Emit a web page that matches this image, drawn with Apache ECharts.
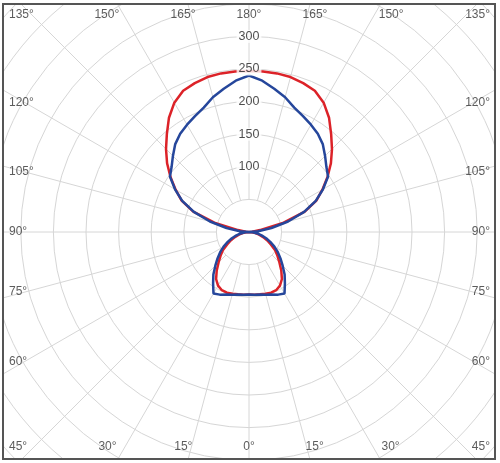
<!DOCTYPE html>
<html>
<head>
<meta charset="utf-8">
<script src="https://cdn.jsdelivr.net/npm/echarts@6/dist/echarts.min.js"></script>
<style>
  html, body { margin: 0; padding: 0; background: #fff; }
  #chart { width: 500px; height: 463px; }
</style>
</head>
<body>
<div id="chart"></div>
<script>
// gamma angle (deg from nadir), intensity readings for the two C-planes
const gammaDeg = [0, 5, 10, 15, 20, 25, 30, 35, 40, 45, 50, 55, 60, 65, 70, 75, 80, 85, 90,
  95, 100, 105, 110, 115, 120, 125, 130, 135, 140, 145, 150, 155, 160, 165, 170, 175, 180];
const redCd = [96, 96.5, 97, 98, 99, 98.5, 95, 88, 77, 66, 57, 49, 39, 31, 23, 16, 10, 4, 0,
  5, 17, 55, 91, 114, 130, 147, 164, 180, 196, 214, 229, 239, 243, 246, 247, 247, 247];
const blueCd = [96, 96.5, 97.5, 99.5, 102, 106, 109, 96, 85, 73, 63, 54, 45, 36, 28, 20, 13, 6, 0,
  14, 35, 62, 90, 113, 131, 148, 155, 165, 176, 184, 190, 196, 203, 214, 223, 233, 240];

const ringLabels = [100, 150, 200, 250, 300];
const angleLabels = [0, 15, 30, 45, 60, 75, 90, 105, 120, 135, 150, 165, 180];

const CX = 249, CY = 232, K = 0.652; // centre and px per cd
const FR = { left: 3, top: 4, right: 495, bottom: 459 };

// gamma on left/right half -> angle axis value (0 = top, clockwise)
const toAxis = (g, side) => side < 0 ? 180 - g : (180 + g) % 360;

const buildCurve = (vals) => {
  const pts = [];
  for (let i = gammaDeg.length - 1; i >= 0; i--) pts.push([vals[i], toAxis(gammaDeg[i], -1)]);
  for (let i = 1; i < gammaDeg.length; i++) pts.push([vals[i], toAxis(gammaDeg[i], 1)]);
  return pts;
};

// angle labels sit where each spoke meets the frame
const edgeLabel = (g, side) => {
  const rad = g * Math.PI / 180;
  const dx = side * Math.sin(rad), dy = Math.cos(rad);
  const tx = dx > 1e-9 ? (FR.right - CX) / dx : dx < -1e-9 ? (FR.left - CX) / dx : Infinity;
  const ty = dy > 1e-9 ? (FR.bottom - CY) / dy : dy < -1e-9 ? (FR.top - CY) / dy : Infinity;
  let px, py, align = 'center';
  if (tx < ty) { px = dx * tx; py = dy * tx * 0.91; }   // side edges
  else { px = dx * ty * 1.08; py = dy * ty; }           // top / bottom edges
  if (px < FR.left + 16 - CX) { px = FR.left + 6 - CX; align = 'left'; }
  if (px > FR.right - 16 - CX) { px = FR.right - 5 - CX; align = 'right'; }
  py = Math.min(Math.max(py, FR.top + 11 - CY), FR.bottom - 12 - CY);
  const theta = Math.atan2(-py, px) * 180 / Math.PI;
  const a = ((90 - theta) % 360 + 360) % 360;
  return { value: [Math.sqrt(px * px + py * py) / K, a], name: g + '°', label: { align: align } };
};

const angleLabelData = [];
angleLabels.forEach(g => {
  if (g === 0 || g === 180) angleLabelData.push(edgeLabel(g, 1));
  else { angleLabelData.push(edgeLabel(g, -1)); angleLabelData.push(edgeLabel(g, 1)); }
});

const gridLine = { show: true, lineStyle: { color: '#d6d6d6', width: 1 } };
const hidden = { axisLine: { show: false }, axisTick: { show: false }, axisLabel: { show: false }, splitLine: { show: false } };
const labelFont = 'Liberation Sans, Arial, sans-serif';

const chart = echarts.init(document.getElementById('chart'));
chart.setOption({
  animation: false,
  backgroundColor: '#fff',
  polar: [
    { center: [CX, CY], radius: [50 * K, 550 * K] },   // grid, empty inside 50
    { center: [CX, CY], radius: [0, 550 * K] }         // curves and labels
  ],
  angleAxis: [
    {
      polarIndex: 0, type: 'value', min: 0, max: 360, interval: 15, startAngle: 90, clockwise: true,
      axisLine: { show: false }, axisTick: { show: false }, axisLabel: { show: false },
      splitLine: gridLine
    },
    Object.assign({ polarIndex: 1, type: 'value', min: 0, max: 360, startAngle: 90, clockwise: true }, hidden)
  ],
  radiusAxis: [
    {
      polarIndex: 0, type: 'value', min: 50, max: 550, interval: 50,
      axisLine: { show: false }, axisTick: { show: false }, axisLabel: { show: false },
      splitLine: gridLine
    },
    Object.assign({ polarIndex: 1, type: 'value', min: 0, max: 550 }, hidden)
  ],
  series: [
    {
      type: 'line', coordinateSystem: 'polar', polarIndex: 1, data: buildCurve(redCd),
      showSymbol: false, clip: false, silent: true,
      lineStyle: { color: '#dc2228', width: 2.5 }, z: 3
    },
    {
      type: 'line', coordinateSystem: 'polar', polarIndex: 1, data: buildCurve(blueCd),
      showSymbol: false, clip: false, silent: true,
      lineStyle: { color: '#25469b', width: 2.5 }, z: 4
    },
    {
      type: 'scatter', coordinateSystem: 'polar', polarIndex: 1, silent: true, clip: false, z: 6,
      symbolSize: 1, itemStyle: { color: 'rgba(0,0,0,0)' },
      data: ringLabels.map(v => ({ value: [v, 0], name: String(v) })),
      label: {
        show: true, position: 'inside', formatter: '{b}', color: '#222',
        fontFamily: labelFont, fontSize: 12.5,
        backgroundColor: '#fff', padding: [0, 2]
      }
    },
    {
      type: 'scatter', coordinateSystem: 'polar', polarIndex: 1, silent: true, clip: false, z: 6,
      symbolSize: 1, itemStyle: { color: 'rgba(0,0,0,0)' },
      data: angleLabelData,
      label: {
        show: true, position: 'inside', formatter: '{b}', color: '#333',
        fontFamily: labelFont, fontSize: 12
      }
    }
  ],
  graphic: [
    { type: 'rect', z: 100, silent: true,
      shape: { x: FR.left - 6, y: FR.top - 6, width: FR.right - FR.left + 12, height: FR.bottom - FR.top + 12 },
      style: { fill: null, stroke: '#fff', lineWidth: 12 } },
    { type: 'rect', z: 101, silent: true,
      shape: { x: FR.left, y: FR.top, width: FR.right - FR.left, height: FR.bottom - FR.top },
      style: { fill: null, stroke: '#555', lineWidth: 2 } }
  ]
});
</script>
</body>
</html>
